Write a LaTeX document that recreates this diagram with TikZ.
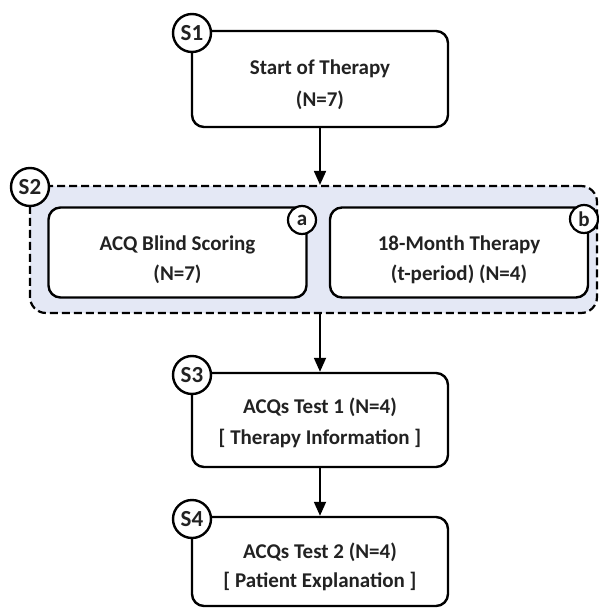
\documentclass[tikz,border=0pt]{standalone}
\usepackage{fontspec}
\setmainfont{Carlito}
\usetikzlibrary{arrows.meta}
\definecolor{panelfill}{RGB}{228,232,245}
\definecolor{txt}{RGB}{34,34,34}
\tikzset{
  box/.style={draw=black, line width=2.4pt, rounded corners=12pt, fill=white,
    minimum width=256pt},
  subbox/.style={draw=black, line width=2.4pt, rounded corners=12pt, fill=white,
    minimum width=258pt, minimum height=90pt},
  boxtext/.style={text=txt, align=center, inner sep=0pt},
  stepcircle/.style={draw=black, line width=2.4pt, circle, fill=white,
    minimum size=38pt, inner sep=0pt, text=txt,
    font=\fontsize{23}{23}\selectfont\bfseries},
  subcircle/.style={draw=black, line width=2.2pt, circle, fill=white,
    minimum size=28pt, inner sep=0pt, text=txt,
    font=\fontsize{21}{21}\selectfont\bfseries},
  panel/.style={draw=black, line width=2.2pt, dash pattern=on 8pt off 4pt,
    rounded corners=16pt, fill=panelfill, minimum width=567pt, minimum height=127pt},
  flow/.style={line width=1.8pt, -{Triangle[length=14pt,width=12pt]}}
}
\begin{document}
\begin{tikzpicture}[x=1pt,y=-1pt]
\useasboundingbox (0,0) rectangle (599,608);
% S1
\node[box, minimum height=96pt] (s1) at (320,79) {};
\node[boxtext, font=\fontsize{21}{32}\selectfont\bfseries, yshift=-6pt] (s1t) at (s1.center) {Start of Therapy\\(N=7)};
\node[stepcircle] (c1) at (192,33) {S1};
% S2 panel
\node[panel] (s2) at (313.5,249.5) {};
\node[stepcircle] (c2) at (30,187) {S2};
\node[subbox] (a) at (177.5,252.5) {};
\node[boxtext, font=\fontsize{21}{30}\selectfont\bfseries, yshift=-7pt] (at) at (a.center) {ACQ Blind Scoring\\(N=7)};
\node[subcircle] (ca) at (302,220) {a};
\node[subbox] (b) at (459,252.5) {};
\node[boxtext, font=\fontsize{21}{30}\selectfont\bfseries, yshift=-7pt] (bt) at (b.center) {18-Month Therapy\\(t-period) (N=4)};
\node[subcircle] (cb) at (584,219) {b};
% S3
\node[box, minimum height=94pt] (s3) at (320,420) {};
\node[boxtext, font=\fontsize{21}{31}\selectfont\bfseries, yshift=-3pt] (s3t) at (s3.center) {ACQs Test 1 (N=4)\\{[} Therapy Information {]}};
\node[stepcircle] (c3) at (192,375) {S3};
% S4
\node[box, minimum height=89pt] (s4) at (320,561.5) {};
\node[boxtext, font=\fontsize{21}{29}\selectfont\bfseries, yshift=-5pt] (s4t) at (s4.center) {ACQs Test 2 (N=4)\\{[} Patient Explanation {]}};
\node[stepcircle] (c4) at (192,519) {S4};
% arrows
\draw[flow] (s1.south) -- (s1.south |- s2.north);
\draw[flow] (s1.south |- s2.south) -- (s3.north);
\draw[flow] (s3.south) -- (s4.north);
\end{tikzpicture}
\end{document}
